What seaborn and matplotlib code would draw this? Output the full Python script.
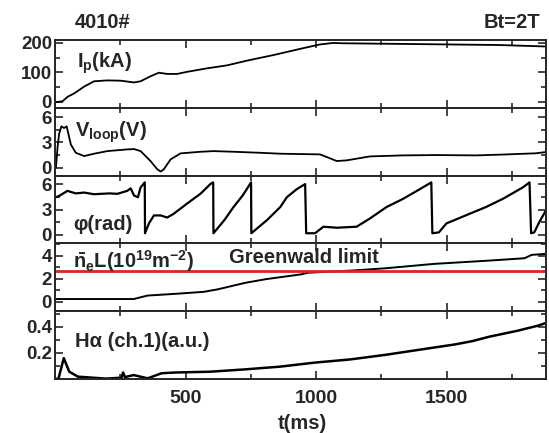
# plasma discharge 4010# overview: Ip, Vloop, phi, line density, H-alpha

import numpy as np
import pandas as pd
import matplotlib
matplotlib.use("Agg")
import matplotlib.pyplot as plt
import seaborn as sns
from matplotlib.ticker import MultipleLocator

sns.set_style("ticks")
plt.rcParams['font.family'] = ['Liberation Sans', 'DejaVu Sans']
plt.rcParams['font.weight'] = 'bold'
plt.rcParams['mathtext.fontset'] = 'custom'
plt.rcParams['mathtext.rm'] = 'Liberation Sans:bold'
plt.rcParams['mathtext.it'] = 'Liberation Sans:bold'
plt.rcParams['mathtext.bf'] = 'Liberation Sans:bold'

# --- data ---
ip_t = [0, 10, 29, 48, 74, 112, 150, 201, 252, 303, 328, 366, 398, 430, 468, 506,
        583, 659, 735, 837, 939, 1015, 1065, 1100, 1300, 1500, 1700, 1880]
ip_v = [0, 0, 2, 17, 29, 52, 70, 73, 72, 66, 70, 87, 99, 95, 95, 102,
        114, 124, 140, 159, 180, 195, 200, 199, 197, 195, 193, 188]

vl_t = [4, 10, 16, 25, 35, 45, 51, 61, 80, 112, 150, 201, 277, 303, 328, 366, 392,
        405, 417, 443, 481, 557, 608, 685, 786, 863, 1015, 1047, 1079, 1117, 1206,
        1333, 1461, 1613, 1715, 1842, 1880]
vl_v = [0, 2.35, 4.0, 4.9, 4.7, 4.9, 4.1, 2.75, 1.76, 1.37, 1.65, 1.96, 2.16, 2.2,
        1.96, 0.78, -0.2, -0.47, -0.2, 0.98, 1.69, 1.88, 1.96, 1.88, 1.76, 1.65, 1.57,
        1.18, 0.78, 0.86, 1.33, 1.45, 1.49, 1.45, 1.55, 1.7, 1.85]

ph_t = [4, 16, 48, 80, 112, 150, 176, 210, 239, 277, 290, 303, 318, 328, 344, 345,
        360, 379, 405, 430, 455, 506, 557, 595, 606, 607, 650, 684, 720, 751, 752,
        812, 863, 888, 926, 958, 962, 996, 1028, 1079, 1155, 1206, 1270, 1333, 1397,
        1441, 1445, 1470, 1499, 1588, 1651, 1715, 1791, 1817, 1823, 1835, 1855, 1880]
ph_v = [4.45, 4.6, 5.2, 4.9, 5.0, 4.8, 4.85, 4.9, 4.85, 5.2, 5.5, 4.65, 4.45, 5.6,
        6.2, 0.2, 1.36, 2.3, 2.3, 2.05, 2.5, 3.7, 4.85, 6.0, 6.2, 0.2, 1.8, 3.3, 4.7,
        6.2, 0.2, 1.75, 3.3, 4.45, 5.4, 6.0, 0.2, 0.2, 0.97, 0.85, 0.97, 1.94, 3.3,
        4.26, 5.4, 6.2, 0.2, 0.3, 1.36, 2.5, 3.3, 4.26, 5.6, 6.2, 0.2, 0.3, 1.55, 2.9]

ne_t = [4, 14, 302, 328, 355, 462, 569, 622, 729, 809, 943, 969, 1130, 1264, 1450,
        1664, 1798, 1825, 1880]
ne_v = [0.25, 0.25, 0.25, 0.4, 0.55, 0.7, 0.87, 1.08, 1.65, 1.97, 2.38, 2.52, 2.7,
        2.9, 3.28, 3.57, 3.77, 4.06, 4.15]
greenwald = 2.65

ha_t = [4, 14, 34, 42, 55, 88, 195, 255, 261, 268, 302, 355, 408, 462, 595, 729,
        863, 996, 1130, 1264, 1397, 1531, 1597, 1664, 1771, 1851, 1880]
ha_v = [0.0, 0.005, 0.16, 0.12, 0.056, 0.018, 0.003, 0.01, 0.05, 0.015, 0.03, 0.005,
        0.044, 0.05, 0.056, 0.074, 0.095, 0.126, 0.15, 0.185, 0.225, 0.265, 0.29,
        0.325, 0.37, 0.41, 0.43]

series = [(ip_t, ip_v), (vl_t, vl_v), (ph_t, ph_v), (ne_t, ne_v), (ha_t, ha_v)]
widths = [1.3, 1.3, 1.6, 1.4, 1.8]
ylims = [(-20, 210), (-0.95, 7.1), (-1.0, 7.0), (-0.8, 5.05), (0, 0.52)]
majors = [100, 3, 3, 2, 0.2]
minors = [50, 1.5, 1.5, 1, 0.1]

fig, axes = plt.subplots(5, 1, sharex=True, figsize=(5.49, 4.33), dpi=100)
fig.subplots_adjust(left=0.1, right=0.9945, top=0.9076, bottom=0.1247, hspace=0)

for i, ax in enumerate(axes):
    t, v = series[i]
    df = pd.DataFrame({"t": t, "v": v})
    sns.lineplot(data=df, x="t", y="v", ax=ax, color="black", lw=widths[i],
                 estimator=None, sort=False)
    ax.set_xlim(0, 1880)
    ax.set_ylim(*ylims[i])
    ax.yaxis.set_major_locator(MultipleLocator(majors[i]))
    ax.yaxis.set_minor_locator(MultipleLocator(minors[i]))
    ax.xaxis.set_major_locator(MultipleLocator(500))
    ax.xaxis.set_minor_locator(MultipleLocator(250))
    ax.tick_params(which="both", direction="in", top=True, right=True, width=1.2)
    ax.tick_params(axis="y", labelsize=13.5, pad=2)
    ax.tick_params(axis="x", labelsize=14, pad=8)
    ax.tick_params(which="major", length=6)
    ax.tick_params(which="minor", length=3.5)
    ax.set_xlabel("")
    ax.set_ylabel("")
    for s in ax.spines.values():
        s.set_linewidth(1.4)
    for lab in ax.get_yticklabels() + ax.get_xticklabels():
        lab.set_fontweight("bold")

axes[0].set_yticks([0, 100, 200])
axes[1].set_yticks([0, 3, 6])
axes[2].set_yticks([0, 3, 6])
axes[3].set_yticks([0, 2, 4])
axes[4].set_yticks([0.2, 0.4])
axes[4].set_yticklabels(["0.2", "0.4"])
axes[4].set_xticks([500, 1000, 1500])

axes[3].axhline(greenwald, color="#e3241d", lw=2)

lab_kw = dict(fontsize=14.5, fontweight="bold", transform=fig.transFigure)
fig.text(77 / 549, 1 - 68 / 433, r"$\mathrm{I_p(kA)}$", **lab_kw)
fig.text(75 / 549, 1 - 137 / 433, r"$\mathrm{V_{loop}(V)}$", **lab_kw)
fig.text(73 / 549, 1 - 230 / 433, "φ(rad)", **lab_kw)
fig.text(73 / 549, 1 - 268 / 433, r"$\mathrm{\bar{n}_eL(10^{19}m^{-2})}$", **lab_kw)
fig.text(229 / 549, 1 - 263 / 433, "Greenwald limit", **lab_kw)
fig.text(75 / 549, 1 - 347 / 433, "Hα (ch.1)(a.u.)", **lab_kw)
fig.text(75 / 549, 1 - 28 / 433, "4010#", **lab_kw)
fig.text(540 / 549, 1 - 28 / 433, "Bt=2T", ha="right", **lab_kw)
fig.text(302 / 549, 1 - 429 / 433, "t(ms)", ha="center", **lab_kw)

plt.savefig("out.png", dpi=100)
